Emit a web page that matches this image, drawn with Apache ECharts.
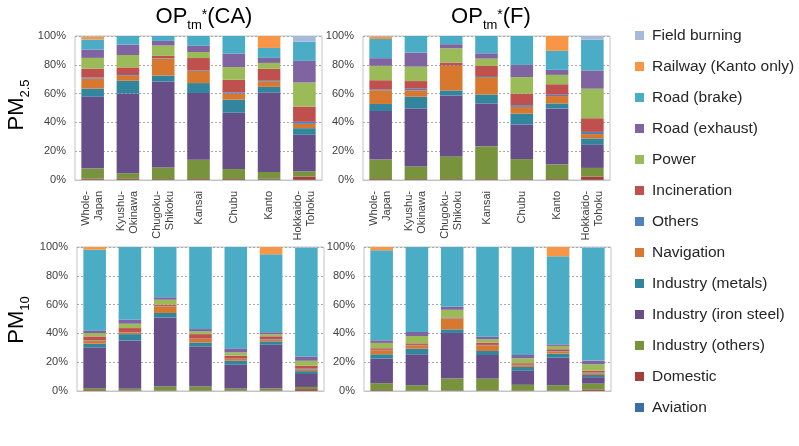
<!DOCTYPE html>
<html>
<head>
<meta charset="utf-8">
<script src="https://cdn.jsdelivr.net/npm/echarts@6/dist/echarts.min.js"></script>
<style>
html,body{margin:0;padding:0;background:#fff;}
#chart{width:799px;height:446px;}
</style>
</head>
<body>
<div id="chart"></div>
<script>
// ---- Data ----
const categories = ['Whole-\nJapan', 'Kyushu-\nOkinawa', 'Chugoku-\nShikoku', 'Kansai', 'Chubu', 'Kanto', 'Hokkaido-\nTohoku'];
const seriesNames = ['Aviation', 'Domestic', 'Industry (others)', 'Industry (iron steel)', 'Industry (metals)', 'Navigation', 'Others', 'Incineration', 'Power', 'Road (exhaust)', 'Road (brake)', 'Railway (Kanto only)', 'Field burning'];
const seriesColors = ['#3D6DA8', '#A33F3C', '#77933C', '#674E88', '#31869E', '#D8772E', '#4F81BD', '#C0504D', '#9BBB59', '#8064A2', '#4BACC6', '#F79646', '#A7B9DA'];
const yTickValues = [0, 20, 40, 60, 80, 100];

// rows follow seriesNames, columns follow categories (% share)
const caPm25 = [
  [0.2, 0.1, 0.1, 0.2, 0.2, 0.3, 0.1],
  [0.7, 0.7, 0.5, 0.5, 0.5, 0.5, 2.3],
  [7.0, 3.9, 8.1, 13.4, 6.9, 4.8, 3.5],
  [50.0, 55.4, 59.7, 46.3, 39.1, 55.1, 25.5],
  [5.6, 8.8, 4.2, 6.9, 9.1, 4.0, 4.6],
  [6.9, 3.5, 11.8, 8.6, 4.1, 3.9, 3.0],
  [0.7, 0.5, 0.3, 0.5, 0.9, 0.7, 1.4],
  [6.3, 5.3, 1.5, 8.3, 8.8, 7.9, 10.6],
  [7.4, 8.6, 7.2, 4.2, 8.8, 4.1, 16.7],
  [5.8, 7.2, 3.2, 4.3, 9.3, 3.5, 15.0],
  [6.9, 6.0, 3.5, 6.8, 12.3, 6.9, 13.4],
  [2.1, 0, 0, 0, 0, 8.5, 0],
  [0.4, 0, 0, 0, 0, 0, 4.0]
];
const fPm25 = [
  [0.2, 0.1, 0.1, 0.1, 0.1, 0.2, 0.1],
  [0.5, 0.5, 0.5, 0.5, 0.5, 0.5, 2.3],
  [13.5, 8.8, 15.8, 22.8, 13.9, 10.0, 6.0],
  [33.7, 40.2, 42.3, 29.7, 24.0, 39.0, 16.0],
  [4.9, 8.2, 3.5, 6.3, 7.6, 3.5, 4.5],
  [9.5, 4.4, 17.0, 12.1, 4.7, 5.1, 3.0],
  [0.7, 1.2, 0.3, 0.7, 1.2, 0.9, 1.5],
  [6.3, 5.3, 2.0, 7.0, 7.9, 7.3, 9.5],
  [10.0, 10.0, 10.0, 5.1, 11.6, 6.5, 20.5],
  [5.3, 9.8, 2.8, 3.7, 8.4, 3.5, 12.7],
  [13.3, 11.5, 5.7, 12.0, 20.1, 13.2, 21.4],
  [1.8, 0, 0, 0, 0, 10.3, 0],
  [0.3, 0, 0, 0, 0, 0, 2.5]
];
const caPm10 = [
  [0.1, 0.1, 0.1, 0.1, 0.1, 0.1, 0.1],
  [0.5, 0.3, 0.3, 0.3, 0.3, 0.3, 1.2],
  [1.4, 1.1, 2.7, 2.7, 1.3, 1.3, 1.5],
  [28.3, 33.6, 48.0, 27.9, 16.5, 30.4, 9.0],
  [2.5, 4.4, 3.1, 2.7, 2.8, 2.4, 2.0],
  [2.3, 1.2, 4.6, 2.4, 1.2, 1.2, 1.2],
  [0.3, 0.3, 0.3, 0.3, 0.3, 0.3, 0.5],
  [2.5, 2.7, 0.9, 3.1, 2.0, 2.0, 2.0],
  [2.3, 3.0, 3.4, 1.9, 2.3, 1.4, 3.5],
  [1.9, 2.8, 1.7, 1.6, 2.8, 1.4, 3.0],
  [56.0, 50.5, 34.9, 57.0, 70.4, 54.1, 75.5],
  [1.9, 0, 0, 0, 0, 5.1, 0],
  [0, 0, 0, 0, 0, 0, 0.5]
];
const fPm10 = [
  [0.1, 0.1, 0.1, 0.1, 0.1, 0.1, 0.1],
  [0.5, 0.3, 0.3, 0.3, 0.3, 0.3, 1.0],
  [4.8, 3.6, 8.2, 8.2, 3.9, 3.6, 4.0],
  [17.1, 21.5, 31.7, 16.4, 9.7, 19.2, 4.5],
  [3.0, 3.9, 2.5, 2.8, 2.7, 2.8, 1.5],
  [2.8, 2.3, 7.6, 3.9, 1.2, 1.4, 1.2],
  [0.3, 0.3, 0.3, 0.3, 0.3, 0.3, 0.5],
  [1.1, 1.1, 0.4, 1.6, 1.1, 1.3, 1.3],
  [3.7, 5.1, 5.3, 2.3, 3.4, 2.3, 4.5],
  [1.8, 2.8, 2.1, 1.8, 2.3, 1.1, 2.5],
  [62.5, 59.0, 41.5, 62.3, 75.0, 61.1, 78.4],
  [2.3, 0, 0, 0, 0, 6.5, 0],
  [0, 0, 0, 0, 0, 0, 0.5]
];

const panels = [caPm25, fPm25, caPm10, fPm10];
const FONT = '"Liberation Sans", Arial, sans-serif';

const grids = [
  {left: 75, top: 36, width: 247, height: 144},
  {left: 363, top: 36, width: 247, height: 144},
  {left: 77, top: 247, width: 247, height: 144},
  {left: 364, top: 247, width: 247, height: 144}
].map(g => Object.assign({show: true, borderColor: '#c4c4c4', borderWidth: 1, containLabel: false}, g));

const xAxes = grids.map((g, i) => ({
  type: 'category',
  gridIndex: i,
  data: categories,
  axisTick: {show: false},
  axisLine: {show: true, lineStyle: {color: '#c4c4c4'}},
  axisLabel: {
    show: i < 2,
    interval: 0,
    rotate: 90,
    margin: 11,
    fontSize: 11,
    lineHeight: 13,
    color: '#404040',
    fontFamily: FONT
  }
}));

const yAxes = grids.map((g, i) => ({
  type: 'value',
  gridIndex: i,
  min: yTickValues[0],
  max: yTickValues[yTickValues.length - 1],
  interval: yTickValues[1] - yTickValues[0],
  axisLine: {show: false},
  axisTick: {show: false},
  axisLabel: {formatter: '{value}%', fontSize: 11, color: '#404040', margin: 9, fontFamily: FONT},
  splitLine: {show: true, lineStyle: {color: '#a8a8a8', type: [2, 2], width: 1}}
}));

const series = [];
panels.forEach((panel, p) => {
  panel.forEach((row, s) => {
    series.push({
      type: 'bar',
      name: seriesNames[s],
      xAxisIndex: p,
      yAxisIndex: p,
      stack: 'panel' + p,
      barCategoryGap: '36%',
      itemStyle: {color: seriesColors[s]},
      data: row
    });
  });
});

const richTitle = {
  a: {fontSize: 22, lineHeight: 30, fontFamily: FONT, fill: '#000', color: '#000'},
  b: {fontSize: 13, lineHeight: 13, verticalAlign: 'bottom', fontFamily: FONT, fill: '#000', color: '#000'},
  c: {fontSize: 14, lineHeight: 14, verticalAlign: 'top', padding: [6, 0, 0, 0], fontFamily: FONT, fill: '#000', color: '#000'}
};

const option = {
  animation: false,
  backgroundColor: '#fff',
  grid: grids,
  xAxis: xAxes,
  yAxis: yAxes,
  legend: {
    orient: 'vertical',
    left: 630,
    top: 22,
    icon: 'rect',
    itemWidth: 9,
    itemHeight: 9,
    itemGap: 14,
    selectedMode: false,
    textStyle: {fontSize: 15.5, lineHeight: 17, color: '#262626', fontFamily: FONT, padding: [0, 0, 0, 3]},
    data: seriesNames.slice().reverse()
  },
  graphic: [
    {type: 'text', x: 204, y: 17, style: {text: '{a|OP}{b|tm}{c|*}{a|(CA)}', rich: richTitle, textAlign: 'center', textVerticalAlign: 'middle', fill: '#000'}},
    {type: 'text', x: 491, y: 17, style: {text: '{a|OP}{b|tm}{c|*}{a|(F)}', rich: richTitle, textAlign: 'center', textVerticalAlign: 'middle', fill: '#000'}},
    {type: 'text', x: 17, y: 105, rotation: Math.PI / 2, style: {text: '{a|PM}{b|2.5}', rich: richTitle, textAlign: 'center', textVerticalAlign: 'middle', fill: '#000'}},
    {type: 'text', x: 17, y: 320, rotation: Math.PI / 2, style: {text: '{a|PM}{b|10}', rich: richTitle, textAlign: 'center', textVerticalAlign: 'middle', fill: '#000'}}
  ],
  series: series
};

const chart = echarts.init(document.getElementById('chart'), null, {renderer: 'canvas'});
chart.setOption(option);
</script>
</body>
</html>
